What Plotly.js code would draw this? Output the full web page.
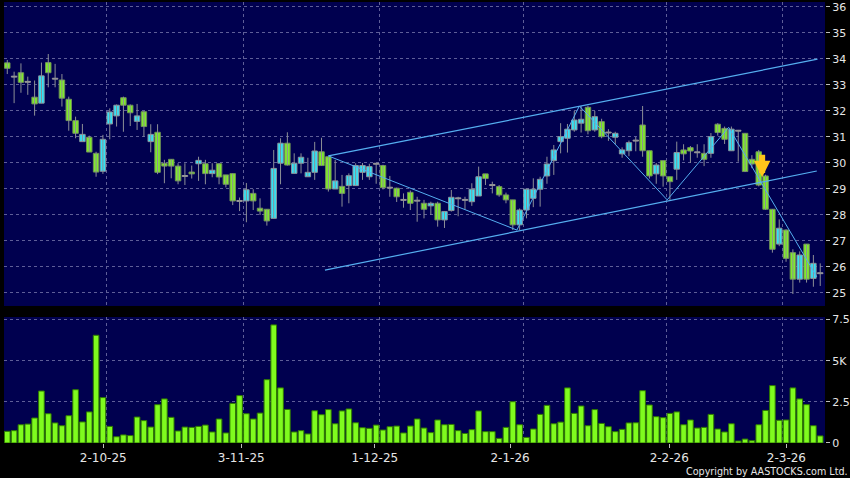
<!DOCTYPE html>
<html>
<head>
<meta charset="utf-8">
<script src="https://cdn.plot.ly/plotly-3.0.1.min.js"></script>
<style>
  html, body { margin: 0; padding: 0; background: #000; }
  #chart { width: 850px; height: 478px; }
</style>
</head>
<body>
<div id="chart"></div>
<script>
// ---- data ----
const openP  = [33.85,33.32,33.47,33.12,32.53,32.30,33.86,33.24,33.19,32.45,
                31.63,30.82,30.99,30.37,29.68,31.50,31.81,32.51,32.22,31.60,
                31.97,30.82,31.18,29.99,30.14,29.88,29.50,29.65,29.97,29.97,
                29.59,29.97,29.54,29.59,28.54,28.54,28.83,28.26,28.22,27.87,
                29.99,30.76,29.60,29.99,29.47,29.64,30.43,30.24,29.00,29.10,
                29.13,29.13,29.64,29.47,29.97,29.90,29.05,29.03,28.58,28.87,
                28.55,28.45,28.35,28.45,27.81,28.17,28.64,28.58,28.51,28.73,
                29.58,29.15,29.09,28.77,28.58,27.62,28.19,28.64,28.99,29.50,
                30.09,30.82,30.95,31.27,31.53,32.14,31.27,31.59,31.17,30.99,
                30.35,30.47,30.86,31.46,30.47,29.58,30.09,29.47,29.76,30.50,
                30.59,30.41,30.37,30.37,31.49,31.33,30.47,31.24,31.14,30.14,
                30.43,29.50,28.22,26.88,27.42,26.55,25.53,26.88,25.56,25.76];
const highP  = [33.96,33.51,33.83,33.32,33.17,33.86,34.19,33.81,33.42,32.55,
                31.78,31.50,31.05,30.43,31.08,32.10,32.25,32.55,32.25,32.27,
                31.99,31.49,31.49,30.12,30.14,29.99,29.99,29.90,30.24,30.12,
                29.99,29.99,29.54,29.59,28.67,29.23,28.99,28.64,28.22,30.50,
                30.95,31.18,30.37,30.37,30.20,30.81,30.97,30.24,30.12,29.54,
                29.60,29.99,30.00,29.97,29.99,29.93,29.50,29.05,28.83,28.94,
                28.70,28.58,28.51,28.51,28.13,28.96,28.70,28.70,29.22,29.86,
                29.58,29.28,29.15,28.86,28.58,28.25,28.99,29.41,29.47,30.24,
                30.69,31.53,31.50,32.00,32.19,32.20,32.00,31.70,31.30,31.20,
                30.60,30.86,31.00,32.19,30.47,30.00,30.09,29.47,30.82,30.72,
                30.65,30.72,30.72,31.15,31.53,31.40,31.40,31.27,31.14,30.30,
                30.50,29.55,28.22,27.83,27.45,26.68,26.60,26.88,26.46,26.14];
const lowP   = [33.42,32.30,32.70,32.62,31.82,32.30,32.91,32.91,32.17,31.24,
                30.95,30.82,30.42,29.47,29.58,30.91,31.40,31.20,31.42,31.27,
                31.01,30.41,29.57,29.22,29.41,29.18,29.15,29.40,29.31,29.18,
                29.45,29.18,29.06,28.38,28.15,27.72,28.19,28.00,27.59,27.87,
                29.18,29.90,29.60,29.60,29.47,29.35,29.90,28.90,29.00,28.32,
                28.45,29.13,29.35,29.35,29.20,28.98,28.70,28.50,28.28,28.19,
                27.74,27.87,28.00,27.55,27.50,28.13,27.95,28.20,28.35,28.73,
                29.15,28.83,28.70,28.45,27.42,27.42,27.87,28.30,28.32,29.20,
                29.54,30.37,30.40,31.20,31.17,31.10,31.20,30.95,30.85,30.72,
                30.20,30.26,30.45,30.24,29.40,29.20,29.09,28.58,29.35,30.10,
                30.00,30.20,29.88,30.20,31.05,30.73,30.47,30.05,29.65,29.80,
                29.10,28.20,26.55,26.80,26.20,24.96,25.40,25.40,25.24,25.27];
const closeP = [33.64,33.32,33.10,33.12,32.27,33.35,33.47,33.24,32.49,31.63,
                31.14,31.10,30.42,29.65,30.91,31.96,32.22,32.22,31.93,31.81,
                31.40,31.10,29.64,29.88,29.88,29.31,29.50,29.58,30.10,29.59,
                29.72,29.46,29.18,28.54,28.54,28.97,28.54,28.15,27.77,29.79,
                30.76,29.92,29.99,30.22,29.64,30.46,29.90,29.00,29.31,28.83,
                29.51,29.90,29.90,29.86,29.97,29.05,29.05,28.70,28.58,28.45,
                28.55,28.22,28.45,27.81,28.13,28.68,28.64,28.58,28.99,29.47,
                29.40,29.15,28.77,28.58,27.62,28.19,28.99,28.99,29.37,29.96,
                30.50,31.01,31.30,31.65,31.68,31.24,31.78,31.01,31.17,31.14,
                30.50,30.78,30.86,30.47,29.50,29.92,29.50,29.28,30.40,30.35,
                30.46,30.41,30.14,31.01,31.17,30.91,31.30,31.24,29.67,29.96,
                29.15,28.22,26.68,27.49,26.33,25.53,26.46,25.53,26.14,25.76];
const volumeK = [0.71,0.75,1.11,1.15,1.52,3.16,1.78,1.22,1.05,1.66,
                 3.24,1.28,1.89,6.55,2.76,1.01,0.38,0.49,0.45,1.58,
                 1.36,0.97,2.33,2.68,1.56,0.73,0.97,0.95,1.01,1.09,
                 0.67,1.46,0.61,2.41,2.88,1.78,1.46,1.82,3.85,7.18,
                 3.35,2.04,0.67,0.75,0.55,1.96,1.72,2.03,1.17,1.95,
                 2.07,1.23,0.93,0.89,1.09,0.79,0.99,1.03,0.61,1.03,
                 1.46,0.91,0.63,1.40,1.11,1.13,0.75,0.58,0.81,1.95,
                 0.69,0.69,0.28,0.95,2.51,1.11,0.34,0.85,1.74,2.29,
                 1.17,1.27,3.35,1.80,2.25,1.05,2.03,1.19,0.99,0.69,
                 0.83,1.22,1.23,3.18,2.31,1.60,1.54,1.80,1.89,1.11,
                 1.40,0.91,0.95,1.74,0.85,0.67,1.17,0.12,0.24,0.14,
                 1.11,1.98,3.49,1.38,1.40,3.35,2.68,2.33,1.05,0.43];
const tickLabels = ['2-10-25','3-11-25','1-12-25','2-1-26','2-2-26','2-3-26'];
const tickPos    = [14.05, 34.25, 53.8, 73.6, 96.9, 114.05];
const gridPos    = [14.55, 34.55, 54.55, 75.55, 96.55, 113.55];
const priceTicks = [25,26,27,28,29,30,31,32,33,34,35,36];
const volTicks   = [0, 2.5, 5, 7.5];
const volTickText= ['0','2.5','5K','7.5'];
// drawn trend lines (index, price)
const channelUpX = [47.0, 118.6];  const channelUpY = [30.27, 33.99];
const channelLoX = [46.5, 118.5];  const channelLoY = [25.88, 29.69];
const zigzagX = [47.0, 74.6, 83.75, 96.6, 105.6, 118.5];
const zigzagY = [30.27, 27.42, 32.19, 28.58, 31.37, 25.62];
const arrowX = [110.5]; const arrowY = [29.45];

const idx = openP.map((_, i) => i);

const NAVY = '#00004f';
const GRID = '#5e5e98';
const LINE = '#55aef0';
const UPC = '#33e2f6', DOWNC = '#80ea2c', DOJIC = '#9a9a9a';
const AXFONT = {family: 'DejaVu Sans', size: 11, color: '#e6e6e6'};

// wick segments (high-low), built from the data
const wickX = [], wickY = [];
idx.forEach(i => { wickX.push(i, i, null); wickY.push(lowP[i], highP[i], null); });
// candle bodies
const MINBODY = 0.035;
const bodyBase = idx.map(i => {
  const lo = Math.min(openP[i], closeP[i]), hi = Math.max(openP[i], closeP[i]);
  return (hi - lo < MINBODY) ? (lo + hi) / 2 - MINBODY / 2 : lo;
});
const bodyLen = idx.map(i => Math.max(Math.abs(closeP[i] - openP[i]), MINBODY));
const bodyFill = idx.map(i => closeP[i] > openP[i] ? UPC : (closeP[i] < openP[i] ? DOWNC : DOJIC));
const bodyEdge = idx.map(i => closeP[i] > openP[i] ? '#8b959c' : (closeP[i] < openP[i] ? '#6f9058' : '#9a9a9a'));

const traces = [
  {type: 'scatter', mode: 'lines', x: wickX, y: wickY, xaxis: 'x', yaxis: 'y',
   line: {color: '#8c8f96', width: 1}, connectgaps: false, hoverinfo: 'skip'},
  {type: 'bar', x: idx, y: bodyLen, base: bodyBase, width: 0.8, xaxis: 'x', yaxis: 'y',
   marker: {color: bodyFill, line: {color: bodyEdge, width: 1}}, hoverinfo: 'skip'},
  {type: 'scatter', mode: 'lines', x: channelUpX, y: channelUpY, xaxis: 'x', yaxis: 'y',
   line: {color: LINE, width: 1.2}, hoverinfo: 'skip'},
  {type: 'scatter', mode: 'lines', x: channelLoX, y: channelLoY, xaxis: 'x', yaxis: 'y',
   line: {color: LINE, width: 1.2}, hoverinfo: 'skip'},
  {type: 'scatter', mode: 'lines', x: zigzagX, y: zigzagY, xaxis: 'x', yaxis: 'y',
   line: {color: LINE, width: 1}, hoverinfo: 'skip'},
  {type: 'bar', x: idx, y: volumeK, width: 0.82, xaxis: 'x2', yaxis: 'y2',
   marker: {color: '#7ffb1e', line: {color: '#2f7a00', width: 1}}, hoverinfo: 'skip'}
];

const xr = [-0.48, 119.7];
const layout = {
  width: 850, height: 478,
  margin: {l: 4, r: 25, t: 2, b: 35},
  paper_bgcolor: '#000000', plot_bgcolor: NAVY,
  showlegend: false, hovermode: false, barmode: 'overlay',
  xaxis: {
    domain: [0, 1], anchor: 'y', range: xr, fixedrange: true,
    tickmode: 'array', tickvals: gridPos, showticklabels: false, ticks: '',
    showgrid: true, gridcolor: GRID, griddash: '3px,3px', gridwidth: 1,
    zeroline: false, showline: false
  },
  xaxis2: {
    domain: [0, 1], anchor: 'y2', range: xr, fixedrange: true,
    tickmode: 'array', tickvals: tickPos, ticktext: tickLabels,
    ticks: 'outside', ticklen: 4, tickcolor: '#bdbdbd', tickwidth: 1,
    tickfont: {family: 'DejaVu Sans', size: 12, color: '#e6e6e6'},
    showgrid: false, zeroline: false, showline: false,
    minor: {tickmode: 'array', tickvals: gridPos, ticks: '', showgrid: true,
            gridcolor: GRID, griddash: '3px,3px', gridwidth: 1}
  },
  yaxis: {
    domain: [0.3107, 1], anchor: 'x', range: [24.5, 36.19], side: 'right', fixedrange: true,
    tickmode: 'array', tickvals: priceTicks,
    ticks: 'outside', ticklen: 4, tickcolor: '#bdbdbd', tickfont: AXFONT,
    showgrid: true, gridcolor: GRID, griddash: '3px,3px', gridwidth: 1,
    zeroline: false, showline: false
  },
  yaxis2: {
    domain: [0, 0.2857], anchor: 'x2', range: [0, 7.66], side: 'right', fixedrange: true,
    tickmode: 'array', tickvals: volTicks, ticktext: volTickText,
    ticks: 'outside', ticklen: 4, tickcolor: '#bdbdbd', tickfont: AXFONT,
    showgrid: true, gridcolor: GRID, griddash: '3px,3px', gridwidth: 1,
    zeroline: false, showline: false
  },
  annotations: [
    {
      x: arrowX[0], y: arrowY[0], xref: 'x', yref: 'y', text: '',
      showarrow: true, ax: 0, ay: -24, axref: 'pixel', ayref: 'pixel',
      arrowcolor: '#ffc61a', arrowwidth: 6, arrowhead: 2, arrowsize: 0.55, standoff: 0
    },
    {
      x: 1.03, y: -0.0635, xref: 'paper', yref: 'paper', xanchor: 'right', yanchor: 'middle',
      text: 'Copyright by AASTOCKS.com Ltd.', showarrow: false,
      font: {family: 'DejaVu Sans', size: 9.6, color: '#e6e6e6'}
    }
  ]
};

Plotly.newPlot('chart', traces, layout, {displayModeBar: false, staticPlot: true});
</script>
</body>
</html>
